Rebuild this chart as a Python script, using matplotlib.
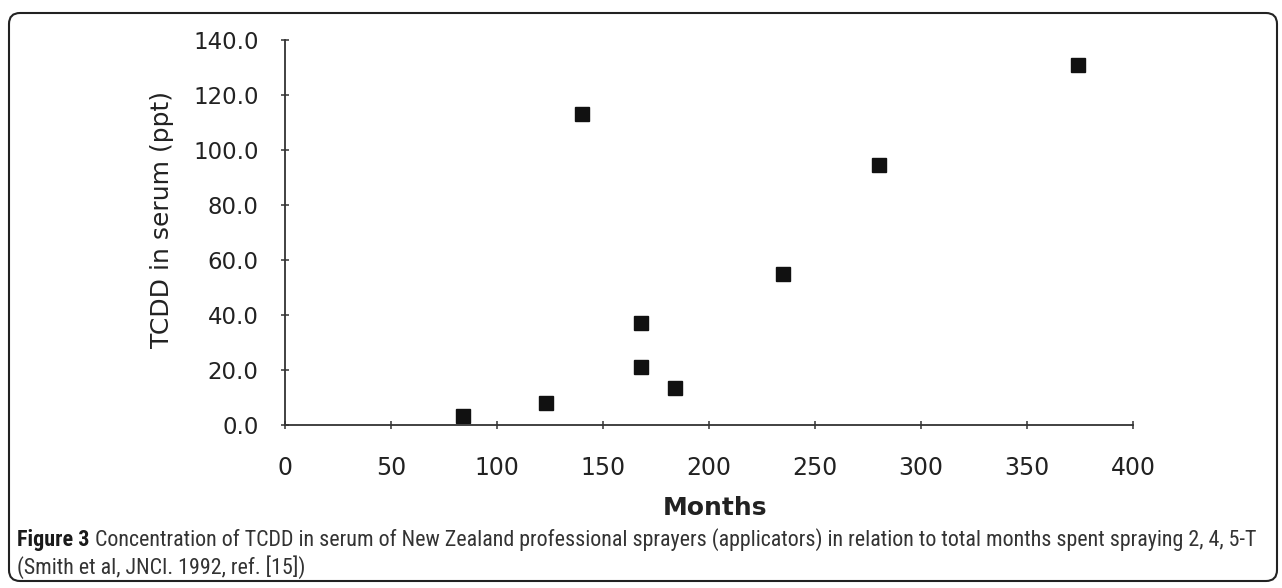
import numpy as np
import matplotlib
matplotlib.use("Agg")
import matplotlib.pyplot as plt
from matplotlib import font_manager
from matplotlib.patches import FancyBboxPatch
from matplotlib.transforms import IdentityTransform

# Data
months = [84, 123, 140, 168, 168, 184, 235, 280, 374]
tcdd = [3.2, 8.0, 113.0, 37.0, 21.0, 13.5, 55.0, 94.5, 131.0]

x_ticks = [0, 50, 100, 150, 200, 250, 300, 350, 400]
y_ticks = [0, 20, 40, 60, 80, 100, 120, 140]

caption_bold = "Figure 3"
caption_rest = (" Concentration of TCDD in serum of New Zealand professional sprayers "
                "(applicators) in relation to total months spent spraying 2, 4, 5-T")
caption_line2 = "(Smith et al, JNCI. 1992, ref. [15])"

W, H = 1282, 588
fig = plt.figure(figsize=(W / 100, H / 100), dpi=100)

ax = fig.add_axes([285 / W, 1 - 425 / H, (1133 - 285) / W, (425 - 40) / H])
ax.plot(months, tcdd, linestyle="none", marker="s", markersize=9.5,
        color="#111111", clip_on=False)

ax.set_xlim(0, 400)
ax.set_ylim(0, 140)
ax.set_xticks(x_ticks)
ax.set_yticks(y_ticks)
ax.set_yticklabels([f"{v:.1f}" for v in y_ticks])

for side in ["top", "right"]:
    ax.spines[side].set_visible(False)
for side in ["left", "bottom"]:
    ax.spines[side].set_color("#333333")
    ax.spines[side].set_linewidth(1.3)

ax.tick_params(axis="both", direction="inout", length=6, width=1.1, color="#333333")
ax.tick_params(axis="x", labelsize=17, pad=19, labelcolor="#222222")
ax.tick_params(axis="y", labelsize=16.5, pad=16, labelcolor="#222222")

fig.text(715 / W, 1 - 508 / H, "Months", ha="center", va="center",
         fontsize=18, fontweight="bold", color="#222222")
fig.text(162 / W, 1 - 219 / H, "TCDD in serum (ppt)", rotation=90,
         ha="center", va="center", fontsize=18, color="#222222")

# Caption: prefer a narrow face, like the journal's condensed font
fonts = font_manager.fontManager.ttflist
names = {f.name for f in fonts}
cap_font, cap_stretch = "DejaVu Sans", "normal"
for cand in ["Liberation Sans Narrow", "DejaVu Sans Condensed", "Roboto Condensed",
             "Open Sans Condensed", "Noto Sans Condensed"]:
    if cand in names:
        cap_font = cand
        break
else:
    for f in fonts:
        if f.stretch in ("condensed", "semi-condensed", 600, 700) or \
                str(f.stretch) in ("condensed", "semi-condensed"):
            cap_font, cap_stretch = f.name, f.stretch
            break

renderer = fig.canvas.get_renderer()
x0, x1 = 17, 1268
size = 14
kw = dict(family=cap_font, stretch=cap_stretch, va="center", ha="left")
t_bold = fig.text(x0 / W, 1 - 540 / H, caption_bold, fontsize=size, fontweight="bold",
                  color="#1a1a1a", **kw)
t_rest = fig.text(0, 1 - 540 / H, caption_rest, fontsize=size, color="#333333", **kw)
wb = t_bold.get_window_extent(renderer).width
wr = t_rest.get_window_extent(renderer).width
size = size * (x1 - x0) / (wb + wr)
t_bold.set_fontsize(size)
t_rest.set_fontsize(size)
wb = t_bold.get_window_extent(renderer).width
t_rest.set_x((x0 + wb) / W)
fig.text(x0 / W, 1 - 567 / H, caption_line2, fontsize=size, color="#333333", **kw)

# Rounded frame
frame = FancyBboxPatch((9, H - 581), 1268, 568,
                       boxstyle="round,pad=0,rounding_size=11",
                       transform=IdentityTransform(), fill=False,
                       edgecolor="#222222", linewidth=1.5)
fig.add_artist(frame)

fig.savefig("out.png", dpi=100)
